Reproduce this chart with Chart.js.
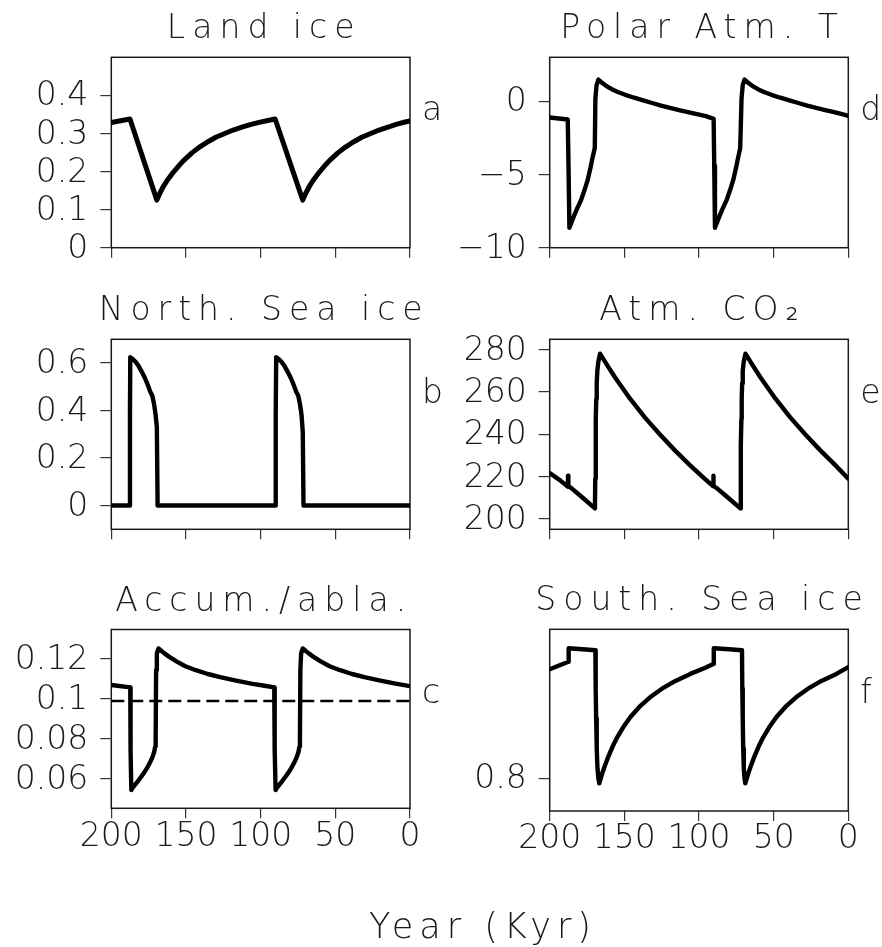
<!DOCTYPE html>
<html>
<head>
<meta charset="utf-8">
<script src="https://cdn.jsdelivr.net/npm/chart.js@4.4.1/dist/chart.umd.min.js"></script>
<style>
  html, body { margin: 0; padding: 0; background: #fff; }
  #wrap { position: relative; width: 882px; height: 947px; overflow: hidden; }
  #wrap canvas { position: absolute; left: 0; top: 0; }
</style>
</head>
<body>
<div id="wrap">
  <canvas id="pa" width="882" height="947"></canvas>
  <canvas id="pb" width="882" height="947"></canvas>
  <canvas id="pc" width="882" height="947"></canvas>
  <canvas id="pd" width="882" height="947"></canvas>
  <canvas id="pe" width="882" height="947"></canvas>
  <canvas id="pf" width="882" height="947"></canvas>
</div>
<script>
// ---- data (x = years before present, Kyr) ----
const yearTicks = [200, 150, 100, 50, 0];

// a: land ice
const landIceYear  = [200, 187.5, 169.5, 167.5, 165, 162, 158.5, 155, 151.8, 146, 140.7, 135, 130, 124, 118.4, 112, 107, 101, 96, 90.3,
                      71.8, 69.8, 67.3, 64.3, 60.8, 57.3, 54.1, 48.3, 43, 37.3, 32.3, 26.3, 20.7, 14.3, 9.3, 3.3, 0];
const landIceValue = [0.329, 0.338, 0.125, 0.143, 0.162, 0.18, 0.198, 0.214, 0.228, 0.249, 0.265, 0.279, 0.29, 0.3, 0.309, 0.317, 0.323, 0.329, 0.3335, 0.338,
                      0.125, 0.143, 0.162, 0.18, 0.198, 0.214, 0.228, 0.249, 0.265, 0.279, 0.29, 0.3, 0.309, 0.317, 0.324, 0.33, 0.333];
const landIceTicks  = [0, 0.1, 0.2, 0.3, 0.4];
const landIceLabels = ['0', '0.1', '0.2', '0.3', '0.4'];

// b: northern sea ice
const northIceYear  = [200, 187.7, 187.5, 187.3, 185.5, 183.5, 181.5, 179.5, 177.5, 175.5, 174, 172.5, 171.3, 170.3, 169.5, 169.0,
                       90.1, 89.9, 89.6, 87.8, 85.8, 83.8, 81.8, 79.8, 77.8, 76.3, 74.8, 73.6, 72.6, 71.8, 71.3, 0];
const northIceValue = [0, 0, 0.385, 0.625, 0.616, 0.603, 0.585, 0.562, 0.537, 0.507, 0.48, 0.462, 0.425, 0.38, 0.331, 0,
                       0, 0.385, 0.625, 0.616, 0.603, 0.585, 0.562, 0.537, 0.507, 0.48, 0.462, 0.425, 0.38, 0.31, 0, 0];
const northIceTicks  = [0, 0.2, 0.4, 0.6];
const northIceLabels = ['0', '0.2', '0.4', '0.6'];

// c: accumulation / ablation
const accumYear  = [200, 187.3, 187.1, 186.6, 185.5, 184, 182, 180, 178, 176, 174, 172.5, 171.3, 170.6, 170.3, 170.0, 169.5, 168.4,
                    166.4, 164.4, 161.4, 156.4, 150.4, 143.4, 135.4, 126.4, 116.4, 105.4, 96.4, 90.9,
                    90.6, 90.0, 88.9, 87.4, 85.4, 83.4, 81.4, 79.4, 77.4, 75.9, 74.7, 74.0, 73.7, 73.4, 72.9, 71.8,
                    69.8, 67.8, 64.8, 59.8, 53.8, 46.8, 38.8, 29.8, 19.8, 8.8, 0];
const accumValue = [0.107, 0.1058, 0.0745, 0.0545, 0.0558, 0.0572, 0.0591, 0.0611, 0.0632, 0.0656, 0.0684, 0.0708, 0.0735, 0.0762, 0.08, 0.1145, 0.1228, 0.1253,
                    0.124, 0.1228, 0.1212, 0.1188, 0.1164, 0.1144, 0.1125, 0.1108, 0.1092, 0.1076, 0.1065, 0.1058,
                    0.0745, 0.0545, 0.0558, 0.0572, 0.0591, 0.0611, 0.0632, 0.0656, 0.0684, 0.0708, 0.0735, 0.0762, 0.08, 0.1145, 0.1228, 0.1253,
                    0.124, 0.1228, 0.1212, 0.1188, 0.1164, 0.1144, 0.1125, 0.1108, 0.1092, 0.1076, 0.1064];
const accumRefYear  = [200, 0];
const accumRefValue = [0.099, 0.099];
const accumTicks  = [0.06, 0.08, 0.1, 0.12];
const accumLabels = ['0.06', '0.08', '0.1', '0.12'];

// d: polar atmospheric temperature
const polarTYear  = [200, 187.9, 187.4, 186.8, 184, 181.5, 179, 176.8, 174.6, 172.8, 171.2, 169.8, 169.4, 168.6, 167.4,
                     165.4, 163.4, 161.4, 158.4, 154.4, 149.4, 143.4, 137.4, 131.4, 125.4, 119.4, 113.4, 107.4, 101.4, 95.4, 90.2,
                     89.8, 89.3, 86.5, 84, 81.5, 79.3, 77.1, 75.3, 73.7, 72.4, 71.5, 70.7, 69.5,
                     67.5, 65.5, 63.5, 60.5, 56.5, 51.5, 45.5, 39.5, 33.5, 27.5, 21.5, 15.5, 9.5, 3.5, 0];
const polarTValue = [-1.11, -1.25, -4.4, -8.64, -7.9, -7.3, -6.75, -6.1, -5.39, -4.6, -3.8, -3.2, 0.2, 1.1, 1.48,
                     1.3, 1.14, 1.0, 0.82, 0.63, 0.44, 0.24, 0.06, -0.12, -0.3, -0.46, -0.6, -0.74, -0.88, -1.02, -1.2,
                     -4.4, -8.64, -7.9, -7.3, -6.75, -6.1, -5.39, -4.6, -3.8, -3.2, 0.2, 1.1, 1.48,
                     1.3, 1.14, 1.0, 0.82, 0.63, 0.44, 0.24, 0.06, -0.12, -0.3, -0.46, -0.6, -0.74, -0.9, -1.0];
const polarTTicks  = [-10, -5, 0];
const polarTLabels = ['\u221210', '\u22125', '0'];

// e: atmospheric CO2
const co2Year  = [200, 193, 187.9, 187.7, 187.5, 185.3, 177.5, 169.7, 169.5, 169.3, 169.0, 168.8, 168.5, 168.1, 167.5, 166.3,
                  161.3, 156.3, 146.3, 136.3, 126.3, 116.3, 106.3, 96.3, 90.6,
                  90.4, 90.2, 87.9, 80.1, 72.3, 72.1, 71.9, 71.6, 71.4, 71.1, 70.7, 70.1, 68.9,
                  63.9, 58.9, 48.9, 38.9, 28.9, 18.9, 8.9, 0];
const co2Value = [221.6, 218.2, 215.2, 220.4, 215.5, 214.4, 209.7, 204.9, 218.8, 234.6, 247.2, 256.7, 264.1, 270, 274, 278.2,
                  272.5, 267, 257, 248, 240, 232.5, 225.5, 219, 215.5,
                  220.4, 215.5, 214.4, 209.7, 204.9, 218.8, 234.6, 247.2, 256.7, 264.1, 270, 274, 278.2,
                  272.5, 267, 257, 248, 240, 232.5, 225.5, 219];
const co2Ticks  = [200, 220, 240, 260, 280];
const co2Labels = ['200', '220', '240', '260', '280'];

// f: southern sea ice
const southIceYear  = [200, 187.5, 187.3, 178, 169.4, 169.2, 168.9, 168.5, 168, 167.4, 166.8,
                       164.8, 162.8, 160.8, 157.8, 154.8, 150.8, 145.8, 139.8, 132.8, 124.8, 115.8, 105.8, 95.8, 90.4,
                       90.1, 80, 71.2, 71.0, 70.7, 70.4, 70, 69.5, 69,
                       67, 65, 63, 60, 57, 53, 48, 42, 35, 27, 18, 8, 0];
const southIceValue = [0.8545, 0.8583, 0.865, 0.8645, 0.864, 0.845, 0.83, 0.815, 0.805, 0.8, 0.7975,
                       0.8025, 0.8068, 0.8107, 0.816, 0.8205, 0.8255, 0.8308, 0.8358, 0.8405, 0.8448, 0.8487, 0.8522, 0.8553, 0.8572,
                       0.865, 0.8645, 0.864, 0.845, 0.83, 0.815, 0.805, 0.8, 0.7975,
                       0.8025, 0.8068, 0.8107, 0.816, 0.8205, 0.8255, 0.8308, 0.8358, 0.8405, 0.8448, 0.8487, 0.8522, 0.8556];
const southIceTicks  = [0.8];
const southIceLabels = ['0.8'];

// ---- drawing ----
const FONT = "'DejaVu Sans', 'Liberation Sans', sans-serif";
const INK = '#1a1a1a';
const W = 882, H = 947;

function pts(xs, ys) {
  return xs.map((x, i) => ({ x: x, y: ys[i] }));
}

const panelText = {
  id: 'panelText',
  beforeDatasetsDraw(chart) {
    const a = chart.chartArea, ctx = chart.ctx;
    ctx.save();
    ctx.strokeStyle = INK;
    ctx.lineWidth = 1.5;
    ctx.strokeRect(a.left, a.top, a.right - a.left, a.bottom - a.top);
    ctx.restore();
  },
  afterDraw(chart, args, opts) {
    const a = chart.chartArea, ctx = chart.ctx;
    ctx.save();
    ctx.fillStyle = INK;
    ctx.textBaseline = 'alphabetic';
    // panel title
    ctx.font = `200 33px ${FONT}`;
    ctx.letterSpacing = '7px';
    ctx.textAlign = 'center';
    ctx.fillText(opts.title, (a.left + a.right) / 2 + 3.5, a.top - 19);
    // panel letter
    ctx.letterSpacing = '0px';
    ctx.textAlign = 'left';
    ctx.font = `200 33px ${FONT}`;
    ctx.fillText(opts.letter, a.right + 12, a.top + opts.letterDy);
    // shared axis title
    if (opts.footer) {
      ctx.font = `200 35px ${FONT}`;
      ctx.letterSpacing = '6px';
      ctx.textAlign = 'center';
      ctx.fillText(opts.footer, 483, 938);
    }
    ctx.restore();
  }
};

function makePanel(id, box, cfg) {
  const [l, t, r, b] = box;
  const yW = 100, xH = 60;
  const tickFont = { family: FONT, size: 33, weight: '200' };
  return new Chart(document.getElementById(id), {
    type: 'line',
    data: { datasets: cfg.datasets },
    options: {
      responsive: false,
      animation: false,
      events: [],
      layout: { padding: { left: l - yW, top: t, right: W - r, bottom: H - b - xH } },
      elements: {
        point: { radius: 0 },
        line: { tension: 0, borderJoinStyle: 'round', borderCapStyle: 'round' }
      },
      plugins: {
        legend: { display: false },
        tooltip: { enabled: false },
        panelText: { title: cfg.title, letter: cfg.letter, letterDy: cfg.letterDy, footer: cfg.footer }
      },
      scales: {
        x: {
          type: 'linear', reverse: true, min: 0, max: 200,
          afterFit(s) { s.height = xH; },
          afterBuildTicks(s) { s.ticks = yearTicks.map(v => ({ value: v })); },
          grid: { drawOnChartArea: false, drawTicks: true, tickLength: 10, color: '#333', lineWidth: 1.2 },
          border: { display: false },
          ticks: { display: cfg.showX, padding: -1, maxRotation: 0, color: INK, font: tickFont,
                   callback: v => String(v) }
        },
        y: {
          type: 'linear', min: cfg.yMin, max: cfg.yMax,
          afterFit(s) { s.width = yW; },
          afterBuildTicks(s) { s.ticks = cfg.yTicks.map(v => ({ value: v })); },
          grid: { drawOnChartArea: false, drawTicks: true, tickLength: 11, color: '#333', lineWidth: 1.2 },
          border: { display: false },
          ticks: { padding: 12, labelOffset: 1.5, color: INK, font: tickFont,
                   callback: (v, i) => cfg.yLabels[i] }
        }
      }
    },
    plugins: [panelText]
  });
}

function series(xs, ys, width) {
  return { data: pts(xs, ys), borderColor: '#000', borderWidth: width, fill: false };
}

makePanel('pa', [111.3, 57.3, 410, 247.7], {
  title: 'Land ice', letter: 'a', letterDy: 63, showX: false,
  yMin: 0, yMax: 0.5, yTicks: landIceTicks, yLabels: landIceLabels,
  datasets: [series(landIceYear, landIceValue, 5)]
});

makePanel('pb', [111.3, 339.3, 410, 529.3], {
  title: 'North. Sea ice', letter: 'b', letterDy: 63.5, showX: false,
  yMin: -0.1, yMax: 0.7, yTicks: northIceTicks, yLabels: northIceLabels,
  datasets: [series(northIceYear, northIceValue, 4.4)]
});

makePanel('pc', [111.3, 629.5, 410, 808.3], {
  title: 'Accum./abla.', letter: 'c', letterDy: 73.5, showX: true, footer: 'Year (Kyr)',
  yMin: 0.04535, yMax: 0.13475, yTicks: accumTicks, yLabels: accumLabels,
  datasets: [
    series(accumYear, accumValue, 4.4),
    Object.assign(series(accumRefYear, accumRefValue, 2.4), { borderDash: [13, 6], borderCapStyle: 'butt' })
  ]
});

makePanel('pd', [549.7, 57.3, 848.3, 247.7], {
  title: 'Polar Atm. T', letter: 'd', letterDy: 63, showX: false,
  yMin: -10, yMax: 3, yTicks: polarTTicks, yLabels: polarTLabels,
  datasets: [series(polarTYear, polarTValue, 4.4)]
});

makePanel('pe', [549.7, 339.3, 848.3, 529.3], {
  title: 'Atm. CO\u2082', letter: 'e', letterDy: 63.5, showX: false,
  yMin: 195, yMax: 285, yTicks: co2Ticks, yLabels: co2Labels,
  datasets: [series(co2Year, co2Value, 4.4)]
});

makePanel('pf', [549.7, 629.3, 848.3, 811], {
  title: 'South. Sea ice', letter: 'f', letterDy: 74, showX: true,
  yMin: 0.78365, yMax: 0.8745, yTicks: southIceTicks, yLabels: southIceLabels,
  datasets: [series(southIceYear, southIceValue, 4.4)]
});
</script>
</body>
</html>
